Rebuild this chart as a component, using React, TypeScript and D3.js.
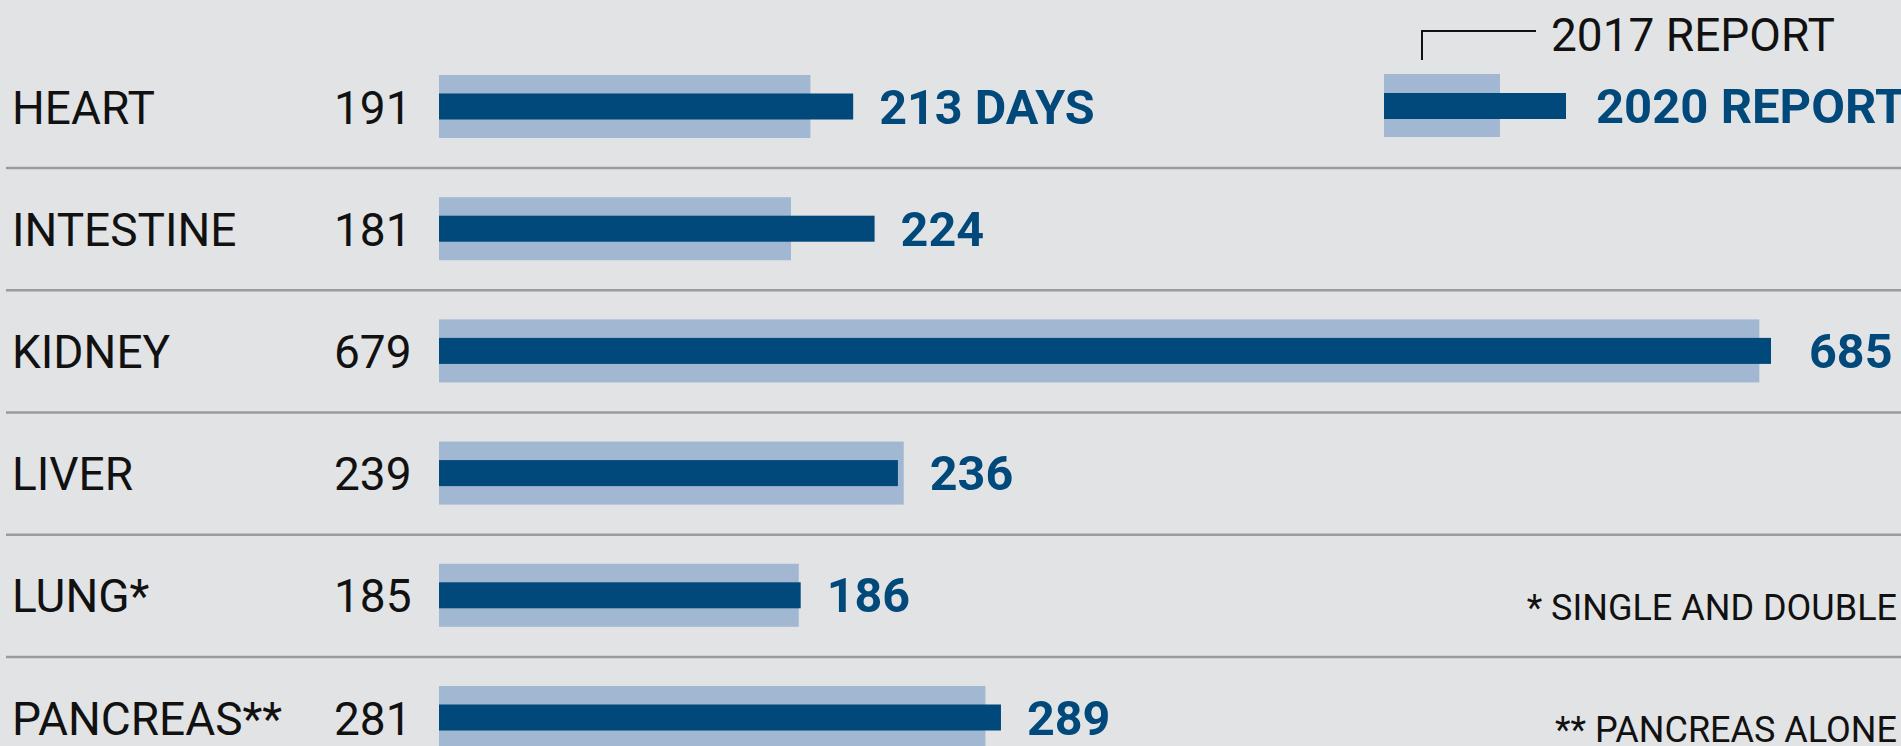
import { useEffect, useRef } from 'react';
import * as d3 from 'd3';

const organs = ['HEART', 'INTESTINE', 'KIDNEY', 'LIVER', 'LUNG*', 'PANCREAS**'];
const report2017 = [191, 181, 679, 239, 185, 281];
const report2020 = [213, 224, 685, 236, 186, 289];
const unitLabels = [' DAYS', '', '', '', '', ''];
const footnotes = ['* SINGLE AND DOUBLE', '** PANCREAS ALONE'];
const legendLabels = ['2017 REPORT', '2020 REPORT'];

const WIDTH = 1901;
const HEIGHT = 746;
const BG = '#e2e3e5';
const LIGHT = '#a1b7d2';
const DARK = '#00497a';
const FONT = 'Roboto, "Noto Sans", sans-serif';

const App = () => {
  const svgRef = useRef<SVGSVGElement | null>(null);

  useEffect(() => {
    document.body.style.margin = '0';
    document.body.style.overflow = 'hidden';
    if (!svgRef.current) return;

    const svg = d3.select(svgRef.current);
    svg.selectAll('*').remove();

    svg.append('rect')
      .attr('width', WIDTH)
      .attr('height', HEIGHT)
      .attr('fill', BG);

    const x = d3.scaleLinear()
      .domain([0, 685])
      .range([439, 1771]);

    const y = d3.scalePoint<string>()
      .domain(organs)
      .range([106.5, 717.5]);

    const step = y.step();
    const lightH = 63;
    const darkH = 26;
    const capHalf = 17;

    // separators between rows
    organs.slice(0, -1).forEach(o => {
      svg.append('line')
        .attr('x1', 6)
        .attr('x2', WIDTH)
        .attr('y1', (y(o) as number) + step / 2 + 0.5)
        .attr('y2', (y(o) as number) + step / 2 + 0.5)
        .attr('stroke', '#9b9b9b')
        .attr('stroke-width', 2.5);
    });

    const rows = svg.selectAll('g.row')
      .data(organs)
      .enter()
      .append('g')
      .attr('class', 'row')
      .attr('transform', d => `translate(0,${y(d)})`);

    rows.append('rect')
      .attr('x', x(0))
      .attr('y', -lightH / 2)
      .attr('width', (_, i) => x(report2017[i]) - x(0))
      .attr('height', lightH)
      .attr('fill', LIGHT);

    rows.append('rect')
      .attr('x', x(0))
      .attr('y', -darkH / 2)
      .attr('width', (_, i) => x(report2020[i]) - x(0))
      .attr('height', darkH)
      .attr('fill', DARK);

    rows.append('text')
      .attr('x', 12)
      .attr('y', capHalf)
      .style('font-family', FONT)
      .style('font-size', '46px')
      .attr('fill', '#111')
      .text(d => d);

    rows.append('text')
      .attr('x', 334)
      .attr('y', capHalf)
      .style('font-family', FONT)
      .style('font-size', '46px')
      .attr('fill', '#111')
      .text((_, i) => report2017[i]);

    // 2020 value labels, the long bar gets a bit more room
    rows.append('text')
      .attr('x', (_, i) => {
        const end = x(Math.max(report2017[i], report2020[i]));
        return end + (end > 1500 ? 38 : 26);
      })
      .attr('y', capHalf)
      .style('font-family', FONT)
      .style('font-size', '48.5px')
      .style('font-weight', 700)
      .attr('fill', DARK)
      .text((_, i) => `${report2020[i]}${unitLabels[i]}`);

    // legend
    const legend = svg.append('g');
    legend.append('rect')
      .attr('x', 1384).attr('y', 74)
      .attr('width', 116).attr('height', lightH)
      .attr('fill', LIGHT);
    legend.append('rect')
      .attr('x', 1384).attr('y', 93)
      .attr('width', 182).attr('height', darkH)
      .attr('fill', DARK);
    legend.append('path')
      .attr('d', 'M1422,60 V31 H1536')
      .attr('fill', 'none')
      .attr('stroke', '#111')
      .attr('stroke-width', 2);
    legend.append('text')
      .attr('x', 1551).attr('y', 51)
      .style('font-family', FONT)
      .style('font-size', '46px')
      .attr('fill', '#111')
      .text(legendLabels[0]);
    legend.append('text')
      .attr('x', 1596).attr('y', 123)
      .style('font-family', FONT)
      .style('font-size', '49px')
      .style('font-weight', 700)
      .attr('fill', DARK)
      .text(legendLabels[1]);

    // footnotes
    svg.selectAll('text.note')
      .data(footnotes)
      .enter()
      .append('text')
      .attr('class', 'note')
      .attr('x', 1897)
      .attr('y', (_, i) => (i === 0 ? 620 : 742))
      .attr('text-anchor', 'end')
      .style('font-family', FONT)
      .style('font-size', '36px')
      .attr('fill', '#111')
      .text(d => d);
  }, []);

  return (
    <svg
      ref={svgRef}
      width={WIDTH}
      height={HEIGHT}
      style={{ display: 'block' }}
    />
  );
};

export default App;
